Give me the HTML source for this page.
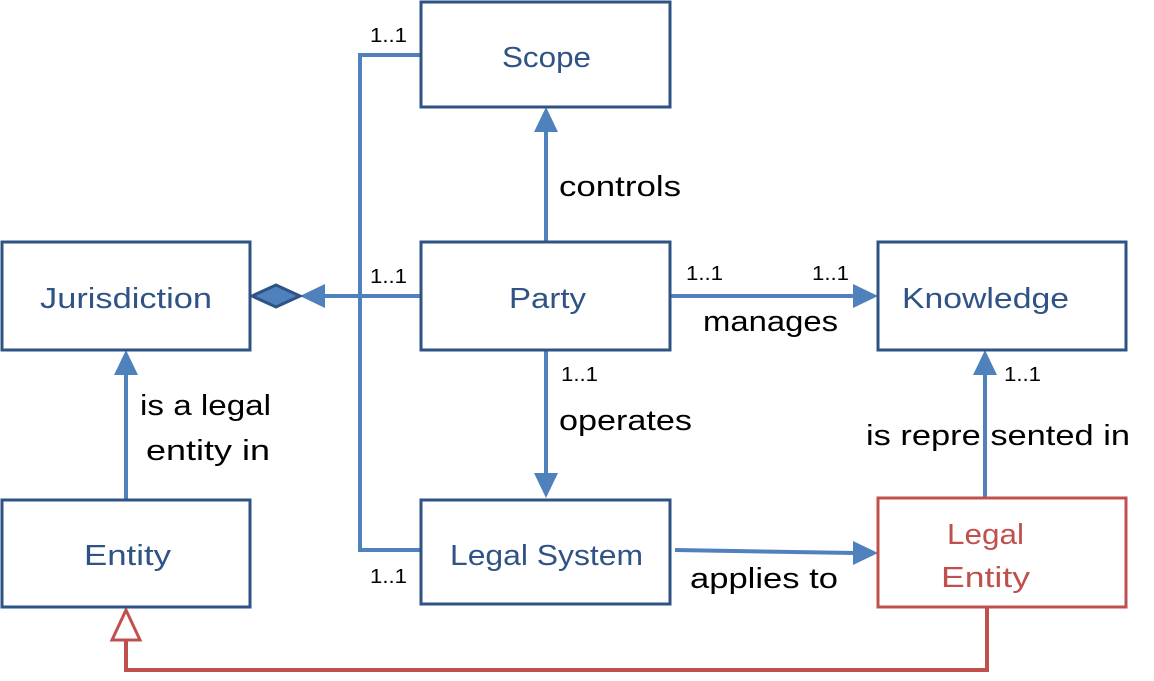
<!DOCTYPE html>
<html><head><meta charset="utf-8"><style>
body{margin:0;background:#fff;width:1154px;height:676px;overflow:hidden}
svg text{font-family:"Liberation Sans",sans-serif}
</style></head><body>
<svg width="1154" height="676" viewBox="0 0 1154 676">
<g fill="none" stroke="#4f81bd" stroke-width="4">
<polyline points="421,55 360,55 360,550 421,550"/>
<line x1="421" y1="296" x2="320" y2="296"/>
<line x1="546" y1="242" x2="546" y2="130"/>
<line x1="546" y1="350" x2="546" y2="475"/>
<line x1="670" y1="296" x2="855" y2="296"/>
<line x1="675" y1="550" x2="855" y2="553"/>
<line x1="985" y1="498" x2="985" y2="372"/>
<line x1="126" y1="500" x2="126" y2="372"/>
</g>
<g fill="#4f81bd">
<polygon points="300,296 325,284 325,308"/>
<polygon points="546,107 534,132 558,132"/>
<polygon points="546,498 534,473 558,473"/>
<polygon points="878,296 853,284 853,308"/>
<polygon points="878,553 853,541 853,565"/>
<polygon points="985,350 973,375 997,375"/>
<polygon points="126,350 114,375 138,375"/>
</g>
<polygon points="252,296 276,285 300,296 276,307" fill="#4f81bd" stroke="#2e5384" stroke-width="3"/>
<polyline points="987,607 987,670 126,670 126,640" fill="none" stroke="#c0504d" stroke-width="4"/>
<polygon points="126,610 112,640 140,640" fill="#fff" stroke="#c0504d" stroke-width="3"/>
<g fill="#fff" stroke="#2e5384" stroke-width="3">
<rect x="421" y="2" width="249" height="105"/>
<rect x="2" y="242" width="248" height="108"/>
<rect x="421" y="242" width="249" height="108"/>
<rect x="878" y="242" width="248" height="108"/>
<rect x="2" y="500" width="248" height="107"/>
<rect x="421" y="500" width="249" height="104"/>
</g>
<rect x="878" y="498" width="248" height="109" fill="#fff" stroke="#c0504d" stroke-width="3"/>
<g fill="#2e5384" font-size="29" lengthAdjust="spacingAndGlyphs">
<text x="502" y="67" textLength="89" lengthAdjust="spacingAndGlyphs">Scope</text>
<text x="40" y="308" textLength="172" lengthAdjust="spacingAndGlyphs">Jurisdiction</text>
<text x="509" y="308" textLength="77" lengthAdjust="spacingAndGlyphs">Party</text>
<text x="902" y="308" textLength="167" lengthAdjust="spacingAndGlyphs">Knowledge</text>
<text x="84" y="565" textLength="87" lengthAdjust="spacingAndGlyphs">Entity</text>
<text x="450" y="565" textLength="193" lengthAdjust="spacingAndGlyphs">Legal System</text>
</g>
<g fill="#c0504d" font-size="29">
<text x="947" y="544" textLength="77" lengthAdjust="spacingAndGlyphs">Legal</text>
<text x="941" y="587" textLength="89" lengthAdjust="spacingAndGlyphs">Entity</text>
</g>
<g fill="#000" font-size="29">
<text x="559" y="196" textLength="122" lengthAdjust="spacingAndGlyphs">controls</text>
<text x="703" y="331" textLength="135" lengthAdjust="spacingAndGlyphs">manages</text>
<text x="559" y="430" textLength="133" lengthAdjust="spacingAndGlyphs">operates</text>
<text x="140" y="415" textLength="131" lengthAdjust="spacingAndGlyphs">is a legal</text>
<text x="146" y="460" textLength="124" lengthAdjust="spacingAndGlyphs">entity in</text>
<text x="866" y="445" textLength="264" lengthAdjust="spacingAndGlyphs">is repre sented in</text>
<text x="690" y="588" textLength="148" lengthAdjust="spacingAndGlyphs">applies to</text>
</g>
<g fill="#000" font-size="20">
<text x="370" y="42" textLength="37" lengthAdjust="spacingAndGlyphs">1..1</text>
<text x="370" y="283" textLength="37" lengthAdjust="spacingAndGlyphs">1..1</text>
<text x="370" y="583" textLength="37" lengthAdjust="spacingAndGlyphs">1..1</text>
<text x="686" y="280" textLength="37" lengthAdjust="spacingAndGlyphs">1..1</text>
<text x="812" y="280" textLength="37" lengthAdjust="spacingAndGlyphs">1..1</text>
<text x="561" y="381" textLength="37" lengthAdjust="spacingAndGlyphs">1..1</text>
<text x="1004" y="381" textLength="37" lengthAdjust="spacingAndGlyphs">1..1</text>
</g>
</svg>
</body></html>
